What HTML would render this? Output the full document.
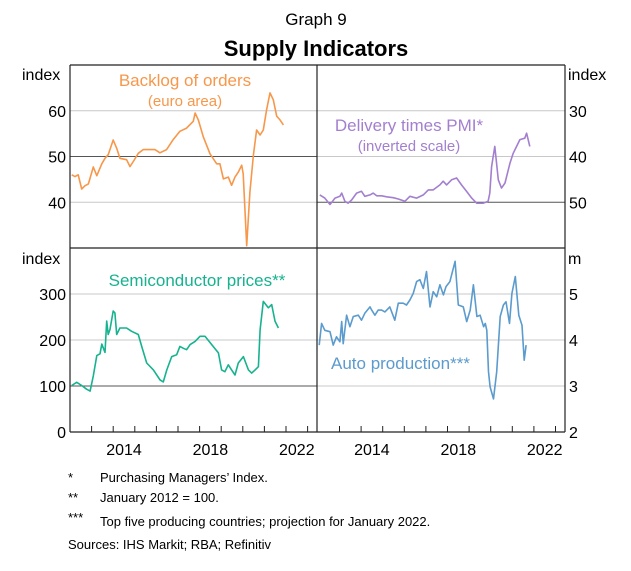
<!DOCTYPE html>
<html><head><meta charset="utf-8"><style>
body{margin:0;background:#fff;}
svg text{font-family:"Liberation Sans",Arial,sans-serif;}
</style></head><body>
<svg id="chart" width="631" height="566" xmlns="http://www.w3.org/2000/svg">
<text x="316" y="25" font-size="17" text-anchor="middle">Graph 9</text>
<text x="316" y="56" font-size="22" font-weight="bold" text-anchor="middle">Supply Indicators</text>
<g id="grid"></g>
<g id="series"></g>
<g id="frame"></g>
<g id="labels"></g>
</svg>
<script>
// ---- data (year, value) ----
const backlogT=[2012.08,2012.23,2012.38,2012.54,2012.69,2012.85,2013.08,2013.24,2013.47,2013.62,2013.77,2014.0,2014.16,2014.31,2014.62,2014.78,2014.93,2015.16,2015.39,2015.62,2015.93,2016.16,2016.47,2016.78,2017.09,2017.4,2017.71,2017.79,2017.94,2018.17,2018.48,2018.79,2018.94,2019.1,2019.33,2019.48,2019.64,2019.79,2019.95,2020.02,2020.18,2020.33,2020.49,2020.64,2020.8,2020.95,2021.1,2021.26,2021.41,2021.57,2021.72,2021.88];
const backlogV=[46.0,45.6,46.0,42.9,43.6,44.0,47.7,45.8,48.4,49.6,50.4,53.6,51.8,49.6,49.3,47.8,48.9,50.7,51.5,51.5,51.5,50.8,51.5,53.7,55.5,56.2,57.7,59.5,58.0,54.3,50.6,48.4,48.4,45.1,45.5,43.7,45.5,46.6,48.1,46.2,30.5,42.2,50.3,55.8,54.7,55.8,60.2,63.9,62.4,58.8,58.0,56.9];
const deliveryT=[2012.09,2012.32,2012.56,2012.79,2013.02,2013.1,2013.25,2013.4,2013.56,2013.79,2014.02,2014.17,2014.41,2014.56,2014.72,2014.95,2015.18,2015.49,2015.72,2016.03,2016.26,2016.57,2016.88,2017.11,2017.34,2017.65,2017.8,2017.96,2018.19,2018.42,2018.65,2018.88,2019.12,2019.35,2019.65,2019.88,2019.96,2020.04,2020.19,2020.35,2020.5,2020.66,2020.89,2021.04,2021.2,2021.35,2021.58,2021.66,2021.81];
const deliveryV=[48.4,49.1,50.5,49.1,48.7,48.0,49.8,50.2,49.5,48.0,47.6,48.7,48.4,48.0,48.6,48.6,48.8,49.0,49.3,49.8,48.7,49.1,48.4,47.3,47.3,46.2,45.4,46.2,45.1,44.7,46.2,47.6,49.1,50.2,50.2,49.8,48.0,42.2,37.8,45.1,46.9,45.8,41.5,39.3,37.8,36.3,36.0,34.9,37.8];
const semiT=[2012.08,2012.31,2012.54,2012.77,2012.93,2013.08,2013.24,2013.39,2013.47,2013.62,2013.7,2013.77,2013.85,2014.0,2014.08,2014.16,2014.31,2014.47,2014.62,2014.85,2015.16,2015.32,2015.55,2015.86,2016.17,2016.32,2016.48,2016.71,2016.94,2017.09,2017.25,2017.4,2017.56,2017.79,2018.02,2018.25,2018.56,2018.87,2019.02,2019.17,2019.33,2019.48,2019.64,2019.79,2020.03,2020.26,2020.41,2020.57,2020.72,2020.8,2020.95,2021.18,2021.34,2021.49,2021.65];
const semiV=[101,108,101,93,89,122,166,170,191,173,241,212,223,263,259,212,226,226,226,219,212,186,150,135,113,109,135,164,168,186,182,179,190,197,208,208,190,172,135,131,146,135,124,150,164,135,128,135,142,222,284,270,277,241,226];
const autoT=[2012.06,2012.17,2012.32,2012.56,2012.71,2012.86,2013.02,2013.1,2013.17,2013.33,2013.48,2013.64,2013.87,2014.02,2014.17,2014.41,2014.49,2014.64,2014.79,2014.95,2015.1,2015.33,2015.56,2015.72,2015.95,2016.1,2016.26,2016.41,2016.57,2016.72,2016.88,2017.03,2017.19,2017.34,2017.5,2017.65,2017.81,2017.93,2018.11,2018.35,2018.5,2018.73,2018.89,2019.05,2019.2,2019.36,2019.51,2019.67,2019.75,2019.82,2019.9,2019.97,2020.13,2020.28,2020.44,2020.59,2020.71,2020.87,2020.98,2021.14,2021.3,2021.45,2021.55,2021.64];
const autoV=[3.89,4.36,4.21,4.18,3.89,4.07,3.96,4.40,3.92,4.54,4.29,4.51,4.54,4.43,4.58,4.72,4.65,4.54,4.65,4.65,4.61,4.72,4.43,4.80,4.80,4.76,4.87,5.01,5.27,5.31,5.12,5.49,4.72,5.05,4.94,5.20,4.98,5.16,5.27,5.71,4.76,4.72,4.40,4.65,5.20,4.51,4.54,4.29,4.36,4.21,3.31,2.98,2.72,3.31,4.51,4.76,4.83,4.36,5.01,5.38,4.54,4.32,3.56,3.89,4.29,4.0];
const yTickLeftTop=[40,50,60], yTickRightTop=[30,40,50];
const yTickLeftBot=[0,100,200,300], yTickRightBot=[2,3,4,5];
const yearLabels=[2014,2018,2022];

const NS="http://www.w3.org/2000/svg";
function mk(tag,attrs,parent,txt){const e=document.createElementNS(NS,tag);for(const k in attrs)e.setAttribute(k,attrs[k]);if(txt!==undefined)e.textContent=txt;document.getElementById(parent).appendChild(e);return e;}
const L0=70,LM=317,R1=565,T0=65,TM=248,B1=432,PPY=21.6;
const xL=t=>L0+(t-2012)*PPY, xR=t=>LM+0.9+(t-2012)*PPY;
const yTL=v=>T0+(70-v)/40*(TM-T0);
const yTR=v=>T0+(v-20)/40*(TM-T0);
const yBL=v=>TM+(400-v)/400*(B1-TM);
const yBR=v=>TM+(6-v)/4*(B1-TM);

yTickLeftTop.forEach(v=>{const g=mk('line',{x1:L0,x2:LM,y1:yTL(v),y2:yTL(v),stroke:v===50?'#555':'#c8c8c8','stroke-width':1},'grid');


const t=mk('text',{x:L0-4,y:yTL(v)+6,'font-size':16,'text-anchor':'end'},'labels',v);

});
yTickRightTop.forEach(v=>{const g=mk('line',{x1:LM,x2:R1,y1:yTR(v),y2:yTR(v),stroke:v===50?'#555':'#c8c8c8','stroke-width':1},'grid');


const t=mk('text',{x:R1+4,y:yTR(v)+6,'font-size':16},'labels',v);

});
yTickLeftBot.forEach(v=>{if(v>0){const g=mk('line',{x1:L0,x2:LM,y1:yBL(v),y2:yBL(v),stroke:v===100?'#555':'#c8c8c8','stroke-width':1},'grid');

}
const t=mk('text',{x:L0-4,y:yBL(v)+6,'font-size':16,'text-anchor':'end'},'labels',v);

});
yTickRightBot.forEach(v=>{if(v>2){const g=mk('line',{x1:LM,x2:R1,y1:yBR(v),y2:yBR(v),stroke:'#c8c8c8','stroke-width':1},'grid');

}
const t=mk('text',{x:R1+4,y:yBR(v)+6,'font-size':16},'labels',v);

});

function line(T,V,xf,yf,col,name){const d=T.map((t,i)=>(i?'L':'M')+xf(t).toFixed(1)+','+yf(V[i]).toFixed(1)).join('');
const p=mk('path',{d:d,fill:'none',stroke:col,'stroke-width':1.6,'stroke-linejoin':'round'},'series');

}
line(backlogT,backlogV,xL,yTL,'#f7974a','backlog-line');
line(deliveryT,deliveryV,xR,yTR,'#a37fcf','delivery-times-line');
line(semiT,semiV,xL,yBL,'#17b28f','semiconductor-line');
line(autoT,autoV,xR,yBR,'#5b9bcd','auto-production-line');

[[L0,T0,R1,T0],[L0,TM,R1,TM],[L0,B1,R1,B1],[L0,T0,L0,B1],[R1,T0,R1,B1],[LM,T0,LM,B1]].forEach(a=>{const f=mk('line',{x1:a[0],y1:a[1],x2:a[2],y2:a[3],stroke:'#222','stroke-width':1.2},'frame');

});
for(let y=2013;y<=2023;y++){[xL(y),xR(y)].forEach(x=>{if(x<R1-2&&Math.abs(x-LM)>3){const k=mk('line',{x1:x,x2:x,y1:B1-6,y2:B1,stroke:'#222','stroke-width':1},'frame');

}});}
yearLabels.forEach(y=>{[xL(y+0.5),xR(y+0.5)].forEach(x=>{const t=mk('text',{x:x,y:455,'font-size':16,'text-anchor':'middle'},'labels',y);

});});

function txt(x,y,s,str,col,name,anchor){const t=mk('text',{x:x,y:y,'font-size':s,fill:col,'text-anchor':anchor||'start'},'labels',str);

}
txt(22,80,16,'index','#000','y-unit-top-left');
txt(568,80,16,'index','#000','y-unit-top-right');
txt(22,264,16,'index','#000','y-unit-bottom-left');
txt(568,264,16,'m','#000','y-unit-bottom-right');
txt(185,86,17,'Backlog of orders','#f7974a','backlog-label','middle');
txt(185,106,15,'(euro area)','#f7974a','backlog-sublabel','middle');
txt(409,131,17,'Delivery times PMI*','#a37fcf','delivery-label','middle');
txt(409,151,15,'(inverted scale)','#a37fcf','delivery-sublabel','middle');
txt(197,286,17,'Semiconductor prices**','#17b28f','semiconductor-label','middle');
txt(331,369,17,'Auto production***','#5b9bcd','auto-production-label');
txt(68,482,13,'*','#000','footnote-1-mark');
txt(100,482,13,"Purchasing Managers’ Index.",'#000','footnote-1');
txt(68,502,13,'**','#000','footnote-2-mark');
txt(100,502,13,'January 2012 = 100.','#000','footnote-2');
txt(68,522,13,'***','#000','footnote-3-mark');
txt(100,526,13,'Top five producing countries; projection for January 2022.','#000','footnote-3');
txt(68,549,13,'Sources: IHS Markit; RBA; Refinitiv','#000','sources');
</script>
</body></html>
